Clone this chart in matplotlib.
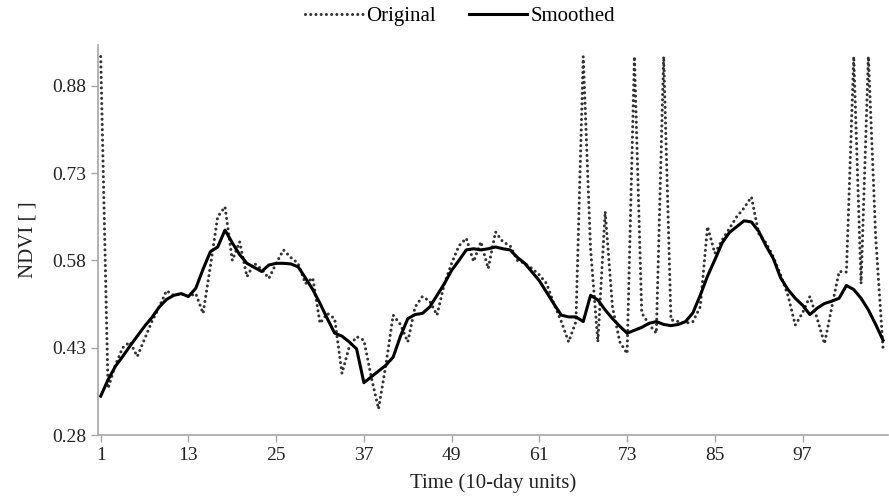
import numpy as np
import matplotlib
matplotlib.use("Agg")
import matplotlib.pyplot as plt

plt.rcParams['font.family'] = ['Liberation Serif', 'DejaVu Serif']

# 10-day composites, 3 years
time = np.arange(1, 109)

original = [
    0.93, 0.36, 0.40, 0.43, 0.44, 0.415, 0.445, 0.475, 0.50, 0.528,
    0.52, 0.523, 0.518, 0.523, 0.489, 0.57, 0.655, 0.672, 0.58, 0.612,
    0.552, 0.575, 0.565, 0.549, 0.575, 0.598, 0.585, 0.575, 0.54, 0.55,
    0.472, 0.489, 0.48, 0.386, 0.432, 0.449, 0.443, 0.38, 0.325, 0.40,
    0.486, 0.47, 0.44, 0.50, 0.518, 0.51, 0.486, 0.54, 0.575, 0.605,
    0.618, 0.578, 0.612, 0.566, 0.629, 0.612, 0.605, 0.58, 0.575, 0.566,
    0.555, 0.54, 0.505, 0.475, 0.44, 0.475, 0.93, 0.60, 0.44, 0.664,
    0.50, 0.44, 0.42, 0.93, 0.49, 0.47, 0.455, 0.93, 0.478, 0.475,
    0.472, 0.475, 0.50, 0.638, 0.592, 0.615, 0.635, 0.655, 0.67, 0.689,
    0.626, 0.61, 0.586, 0.555, 0.52, 0.469, 0.49, 0.518, 0.48, 0.437,
    0.50, 0.561, 0.56, 0.93, 0.54, 0.93, 0.62, 0.43,
]

smoothed = [
    0.347, 0.375, 0.398, 0.415, 0.433, 0.45, 0.467, 0.482, 0.50, 0.513,
    0.52, 0.523, 0.518, 0.532, 0.565, 0.595, 0.603, 0.632, 0.61, 0.59,
    0.575, 0.568, 0.561, 0.572, 0.575, 0.575, 0.574, 0.569, 0.55, 0.53,
    0.506, 0.48, 0.455, 0.45, 0.44, 0.428, 0.37, 0.38, 0.39, 0.40,
    0.414, 0.45, 0.48, 0.487, 0.489, 0.50, 0.52, 0.54, 0.563, 0.58,
    0.598, 0.60, 0.598, 0.60, 0.603, 0.60, 0.598, 0.585, 0.575, 0.56,
    0.545, 0.525, 0.505, 0.486, 0.483, 0.483, 0.475, 0.52, 0.512, 0.495,
    0.48, 0.467, 0.455, 0.46, 0.465, 0.472, 0.475, 0.47, 0.468, 0.47,
    0.475, 0.49, 0.52, 0.553, 0.581, 0.61, 0.628, 0.638, 0.648, 0.646,
    0.63, 0.605, 0.583, 0.55, 0.53, 0.515, 0.503, 0.487, 0.498, 0.506,
    0.51, 0.515, 0.537, 0.53, 0.515, 0.495, 0.47, 0.443,
]

xticks = [1, 13, 25, 37, 49, 61, 73, 85, 97]
yticks = [0.28, 0.43, 0.58, 0.73, 0.88]

fig = plt.figure(figsize=(8.89, 4.99), dpi=100)
ax = fig.add_axes([0.110, 0.128, 0.889, 0.782])

ax.plot(time, original, color="#333333", lw=2.2, linestyle=(0, (0.01, 1.7)),
        dash_capstyle="round", label="Original")
ax.plot(time, smoothed, color="black", lw=2.2, label="Smoothed")

ax.set_xlim(0.6, 108.7)
ax.set_ylim(0.28, 0.95)
ax.set_xticks(xticks)
ax.set_yticks(yticks)
ax.set_yticklabels([f"{v:.2f}" for v in yticks])

for side in ["top", "right"]:
    ax.spines[side].set_visible(False)
for side in ["left", "bottom"]:
    ax.spines[side].set_color("#a6a6a6")
    ax.spines[side].set_linewidth(1.2)
ax.tick_params(axis="both", direction="out", length=5, width=1.0, color="#a6a6a6",
               labelsize=14, labelcolor="#222222")

ax.set_xlabel("Time (10-day units)", fontsize=15, color="#222222", labelpad=7)
ax.set_ylabel("NDVI [ ]", fontsize=15, color="#222222", labelpad=10)

ax.legend(loc="lower center", bbox_to_anchor=(0.458, 1.0), ncol=2, frameon=False,
          fontsize=15, handlelength=2.8, columnspacing=1.6, handletextpad=0.15)

fig.savefig("out.png", dpi=100)
